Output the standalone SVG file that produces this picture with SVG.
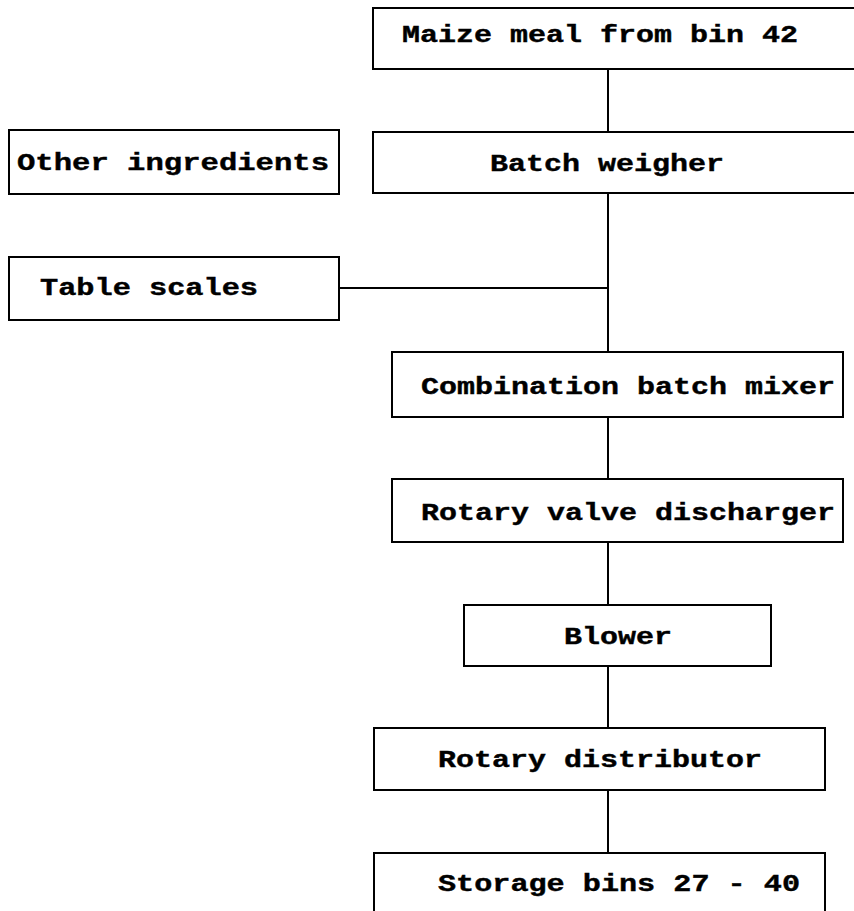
<svg xmlns="http://www.w3.org/2000/svg" width="854" height="911" viewBox="0 0 854 911">
  <style>
    .box { fill: #ffffff; stroke: #000000; stroke-width: 2; }
    .lbl { font-family: "Liberation Mono", "Courier New", monospace; font-weight: bold; font-size: 23px; fill: #000000; stroke: #000000; stroke-width: 0.4; }
    .wire { fill: none; stroke: #000000; stroke-width: 2; }
  </style>
  <rect x="0" y="0" width="854" height="911" fill="#ffffff"/>

  <!-- flow lines -->
  <g id="connectors">
    <path class="wire" d="M608,69 V132"/>
    <path class="wire" d="M608,193 V352"/>
    <path class="wire" d="M339,288 H608"/>
    <path class="wire" d="M608,417 V479"/>
    <path class="wire" d="M608,542 V605"/>
    <path class="wire" d="M608,666 V728"/>
    <path class="wire" d="M608,790 V853"/>
  </g>

  <g id="maize-meal">
    <rect class="box" x="373" y="8" width="500" height="61"/>
    <text class="lbl" x="402" y="42" textLength="396" lengthAdjust="spacingAndGlyphs">Maize meal from bin 42</text>
  </g>

  <g id="batch-weigher">
    <rect class="box" x="373" y="132" width="500" height="61"/>
    <text class="lbl" x="490" y="171" textLength="234" lengthAdjust="spacingAndGlyphs">Batch weigher</text>
  </g>

  <g id="other-ingredients">
    <rect class="box" x="9" y="130" width="330" height="64"/>
    <text class="lbl" x="17" y="170" textLength="312" lengthAdjust="spacingAndGlyphs">Other ingredients</text>
  </g>

  <g id="table-scales">
    <rect class="box" x="9" y="257" width="330" height="63"/>
    <text class="lbl" x="40" y="295" textLength="218" lengthAdjust="spacingAndGlyphs">Table scales</text>
  </g>

  <g id="batch-mixer">
    <rect class="box" x="392" y="352" width="451" height="65"/>
    <text class="lbl" x="421" y="394" textLength="414" lengthAdjust="spacingAndGlyphs">Combination batch mixer</text>
  </g>

  <g id="valve-discharger">
    <rect class="box" x="392" y="479" width="451" height="63"/>
    <text class="lbl" x="421" y="520" textLength="414" lengthAdjust="spacingAndGlyphs">Rotary valve discharger</text>
  </g>

  <g id="blower">
    <rect class="box" x="464" y="605" width="307" height="61"/>
    <text class="lbl" x="564" y="644" textLength="108" lengthAdjust="spacingAndGlyphs">Blower</text>
  </g>

  <g id="rotary-distributor">
    <rect class="box" x="374" y="728" width="451" height="62"/>
    <text class="lbl" x="438" y="767" textLength="324" lengthAdjust="spacingAndGlyphs">Rotary distributor</text>
  </g>

  <g id="storage-bins">
    <rect class="box" x="374" y="853" width="451" height="80"/>
    <text class="lbl" x="438" y="891" textLength="362" lengthAdjust="spacingAndGlyphs">Storage bins 27 - 40</text>
  </g>
</svg>
